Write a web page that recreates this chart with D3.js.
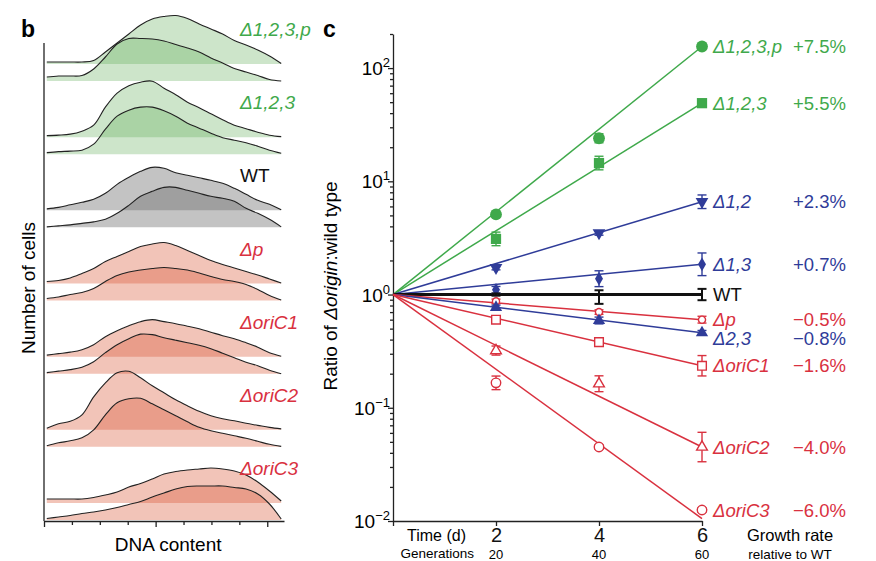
<!DOCTYPE html>
<html>
<head>
<meta charset="utf-8">
<script src="https://cdnjs.cloudflare.com/ajax/libs/d3/7.8.5/d3.min.js"></script>
<style>
body { margin: 0; background: #fff; }
svg { font-family: "Liberation Sans", Arial, sans-serif; }
</style>
</head>
<body>
<div id="chart"></div>
<script>
// ---------- data: panel b (DNA content histograms) ----------
var dnaBins = [0.1, 0.52, 0.94, 1.36, 1.78, 2.2, 2.62, 3.04, 3.46, 3.88, 4.3,
    4.72, 5.14, 5.56, 5.98, 6.4, 6.82, 7.24, 7.66, 8.08, 8.5];
var dnaTicks = [0, 1, 2, 3, 4, 5, 6, 7, 8];
var histStrains = ["Δ1,2,3,p", "Δ1,2,3", "WT", "Δp", "ΔoriC1", "ΔoriC2", "ΔoriC3"];

// upper (A) and lower (B) trace of each strain, cell counts per bin
var h123pA = [2, 2, 2, 2, 3.5, 12, 21, 30, 39, 45, 47.5, 48.5, 45.5, 40, 35, 30, 23.5, 19, 14, 8, 0.5];
var h123pB = [4, 5, 5, 5.5, 12, 24, 37, 42.5, 42.5, 42, 40, 36.5, 33, 29, 23, 18, 12.5, 9, 5.5, 1.5, 0];
var h123A = [1.5, 2, 3, 6, 12, 30, 44, 51.5, 55, 56, 49, 42.5, 35, 29.5, 23.5, 17.5, 12, 8.5, 5, 2, 0.5];
var h123B = [1.5, 2.5, 3, 4, 10, 25, 38, 44, 47, 47, 43.5, 38, 31, 26, 21, 16.5, 14, 11.5, 8, 4, 1];
var hWTA = [1.5, 3, 5.5, 8, 11, 17, 26, 33, 39, 43, 42, 37.5, 35, 32.5, 30, 27, 22, 16, 10, 6, 0.5];
var hWTB = [0.5, 1.5, 2.5, 4, 5.5, 8, 14, 22, 31, 36, 40, 40, 37, 34, 31, 29, 26, 19, 14, 8, 0.5];
var hpA = [2, 3, 5.5, 10, 15, 22, 27, 32, 37, 39.5, 41, 38, 33, 28, 23, 19, 15.5, 12, 8.5, 4.5, 0.5];
var hpB = [2, 3.5, 6, 8, 12, 19, 25, 28.5, 30.5, 32, 33, 32, 30.5, 27.5, 24, 21, 19, 16, 11, 5, 0.5];
var hC1A = [1.5, 3, 4.5, 7, 12, 20, 26, 31, 35, 37, 35, 33, 30.5, 28, 24.5, 21, 18, 14, 9.5, 4, 0.5];
var hC1B = [1, 2.5, 4, 6.5, 12, 21, 29, 35, 39.5, 39, 36, 33.5, 31, 28.5, 25, 20.5, 16, 11.5, 8, 3.5, 0];
var hC2A = [1.5, 6, 8.5, 15, 33, 47, 57, 58.5, 52, 44, 37, 30, 24, 18.5, 14, 11, 9, 6.5, 4.5, 2.5, 1];
var hC2B = [1, 4, 6, 9, 17, 32, 44, 48, 48.5, 43, 37, 31, 25, 19.5, 16, 13.5, 11, 8.5, 5.5, 2.5, 0.5];
var hC3A = [4, 4, 4, 4, 5.5, 8, 11, 16, 19.5, 24, 29, 31.5, 33, 34, 35, 34, 32, 28, 21, 12, 2];
var hC3B = [1.5, 3, 4.5, 6.5, 8, 10, 12.5, 15.5, 18.5, 23, 27, 31, 33.5, 34, 34, 34, 32.5, 31, 26, 16, 1];
var histUpper = [h123pA, h123A, hWTA, hpA, hC1A, hC2A, hC3A];
var histLower = [h123pB, h123B, hWTB, hpB, hC1B, hC2B, hC3B];

// ---------- data: panel c (ratio of Δorigin : wild type) ----------
var days = [2, 4, 6];
var generations = [20, 40, 60];
var strains = ["Δ1,2,3,p", "Δ1,2,3", "Δ1,2", "Δ1,3", "WT", "Δp", "Δ2,3", "ΔoriC1", "ΔoriC2", "ΔoriC3"];
var growthRates = ["+7.5%", "+5.5%", "+2.3%", "+0.7%", "", "−0.5%", "−0.8%", "−1.6%", "−4.0%", "−6.0%"];
var ratios = [
    [5.1, 24, 155],
    [3.1, 14.5, 49],
    [1.73, 3.5, 6.6],
    [1.1, 1.38, 1.85],
    [1, 0.95, 1],
    [0.87, 0.7, 0.6],
    [0.77, 0.59, 0.46],
    [0.6, 0.38, 0.235],
    [0.32, 0.163, 0.045],
    [0.166, 0.045, 0.0125]
];
// error bar half-widths, in decades (log10)
var ratioErrors = [
    [0.02, 0.04, 0.02],
    [0.06, 0.06, 0.02],
    [0.02, 0.02, 0.06],
    [0.03, 0.07, 0.1],
    [0.01, 0.06, 0.05],
    [0.02, 0.02, 0.03],
    [0.02, 0.03, 0.02],
    [0.02, 0.02, 0.09],
    [0.04, 0.07, 0.13],
    [0.06, 0.02, 0.02]
];
// fitted exponential line, value at day 6 (starts at 1 on day 0)
var fitAtDay6 = [155, 49, 6.6, 1.85, 1, 0.6, 0.46, 0.235, 0.045, 0.0105];

// ---------- styles ----------
var green = "#3fa94b", blue = "#2f3c99", red = "#d9313f", black = "#111";
var strainColor = [green, green, blue, blue, black, red, blue, red, red, red];
var triDown = { draw: function(ctx, size) {
    var s = Math.sqrt(size * 4 / Math.sqrt(3)), h = s * Math.sqrt(3) / 2;
    ctx.moveTo(-s / 2, -h / 3); ctx.lineTo(s / 2, -h / 3); ctx.lineTo(0, 2 * h / 3); ctx.closePath();
} };
var strainSymbol = [d3.symbolCircle, d3.symbolSquare, triDown, d3.symbolDiamond, null,
    d3.symbolCircle, d3.symbolTriangle, d3.symbolSquare, d3.symbolTriangle, d3.symbolCircle];
var strainSymbolSize = [110, 105, 70, 55, 0, 40, 65, 75, 50, 70];
var strainOpen = [false, false, false, false, false, true, false, true, true, true];
var histFill = ["rgb(90,170,80)", "rgb(90,170,80)", "rgb(105,105,105)", "rgb(218,86,52)",
    "rgb(218,86,52)", "rgb(218,86,52)", "rgb(218,86,52)"];
var histAlpha = [0.3, 0.3, 0.4, 0.35, 0.35, 0.35, 0.35];
var histLabelColor = [green, green, black, red, red, red, red];

var svg = d3.select("#chart")
    .append("svg")
    .attr("width", 876)
    .attr("height", 561);

// ================= panel b =================
var dnaScale = d3.scaleLinear().domain([0, 8.6]).range([44, 284]);
var laneScale = d3.scalePoint().domain(histStrains).range([81, 520]);
var cellScale = d3.scaleLinear().domain([0, 60]).range([0, 60]);
var laneGap = 17;

var panelB = svg.append("g");

histStrains.forEach(function(name, i) {
    var base = laneScale(name);
    [[histUpper[i], base - laneGap], [histLower[i], base]].forEach(function(pair) {
        var pts = pair[0].map((c, k) => ({ x: dnaBins[k], c: c }));
        var b0 = pair[1];
        var area = d3.area()
            .x(d => dnaScale(d.x))
            .y0(b0)
            .y1(d => b0 - cellScale(d.c))
            .curve(d3.curveCatmullRom);
        panelB.append("path")
            .datum(pts)
            .attr("d", area)
            .attr("fill", histFill[i])
            .attr("fill-opacity", histAlpha[i]);
    });
});

// outlines on top
histStrains.forEach(function(name, i) {
    var base = laneScale(name);
    [[histUpper[i], base - laneGap], [histLower[i], base]].forEach(function(pair) {
        var pts = pair[0].map((c, k) => ({ x: dnaBins[k], c: c }));
        var b0 = pair[1];
        var line = d3.line()
            .x(d => dnaScale(d.x))
            .y(d => b0 - cellScale(d.c))
            .curve(d3.curveCatmullRom);
        panelB.append("path")
            .datum(pts)
            .attr("d", line)
            .attr("fill", "none")
            .attr("stroke", "#222")
            .attr("stroke-width", 1.1);
    });
    panelB.append("text")
        .attr("x", 240)
        .attr("y", base - 45)
        .attr("fill", histLabelColor[i])
        .attr("font-size", 19)
        .attr("font-style", name === "WT" ? "normal" : "italic")
        .text(name);
});

// axes of panel b
var dnaAxis = panelB.append("g")
    .attr("transform", "translate(0,521)")
    .call(d3.axisBottom(dnaScale).tickValues(dnaTicks).tickSize(4).tickSizeOuter(0).tickFormat(""));
dnaAxis.selectAll(".tick line").attr("y2", d => d % 4 === 0 ? 6 : 4);
dnaAxis.selectAll("path, line").attr("stroke", "#222").attr("stroke-width", 1.3);

panelB.append("line")
    .attr("x1", dnaScale(0)).attr("x2", dnaScale(0))
    .attr("y1", 43).attr("y2", 521)
    .attr("stroke", "#222")
    .attr("stroke-width", 1.3);

panelB.append("text")
    .attr("x", dnaScale(4.45))
    .attr("y", 551)
    .attr("text-anchor", "middle")
    .attr("font-size", 19)
    .text("DNA content");

panelB.append("text")
    .attr("transform", "translate(35,288) rotate(-90)")
    .attr("text-anchor", "middle")
    .attr("font-size", 19)
    .text("Number of cells");

svg.append("text")
    .attr("x", 21).attr("y", 37)
    .attr("font-size", 23).attr("font-weight", "bold")
    .text("b");

// ================= panel c =================
var x = d3.scaleLinear().domain([0, 6]).range([393, 702]);
var y = d3.scaleLog().domain([0.01, 200]).range([521, 34]);

var panelC = svg.append("g");

var majorTicks = [0.01, 0.1, 1, 10, 100];
var tickExp = ["−2", "−1", "0", "1", "2"];
var minorTicks = [];
majorTicks.forEach(function(m) {
    for (var k = 2; k <= 9; k++) {
        if (m * k <= 200) minorTicks.push(m * k);
    }
});

var yAxis = panelC.append("g")
    .attr("transform", `translate(${x(0)},0)`)
    .call(d3.axisLeft(y).tickValues(majorTicks).tickSize(5).tickSizeOuter(0).tickFormat(""));
var yMinor = panelC.append("g")
    .attr("transform", `translate(${x(0)},0)`)
    .call(d3.axisLeft(y).tickValues(minorTicks).tickSize(3).tickFormat(""));
yMinor.select(".domain").remove();
panelC.selectAll("path.domain, .tick line").attr("stroke", "#222").attr("stroke-width", 1.3);

majorTicks.forEach(function(m, i) {
    var t = panelC.append("text")
        .attr("x", x(0) - 3)
        .attr("y", y(m) + 7)
        .attr("text-anchor", "end")
        .attr("font-size", 19)
        .text("10");
    t.append("tspan")
        .attr("dy", -8)
        .attr("font-size", 13)
        .text(tickExp[i]);
});

var xAxis = panelC.append("g")
    .attr("transform", "translate(0,521)")
    .call(d3.axisBottom(x).tickValues([0].concat(days)).tickSize(5).tickSizeOuter(0)
        .tickFormat(d => d === 0 ? "" : d));
xAxis.selectAll("path, line").attr("stroke", "#222").attr("stroke-width", 1.3);
xAxis.selectAll("text")
    .attr("font-size", 20)
    .attr("font-family", "Liberation Sans, Arial, sans-serif")
    .attr("fill", "#111")
    .attr("y", 7);

// bottom row sits right at the lower edge, as in the original figure
panelC.selectAll(".gen")
    .data(generations)
    .enter()
    .append("text")
    .attr("x", (d, i) => x(days[i]))
    .attr("y", 559)
    .attr("text-anchor", "middle")
    .attr("font-size", 13)
    .text(d => d);

panelC.append("text")
    .attr("x", 466).attr("y", 541)
    .attr("text-anchor", "end").attr("font-size", 16)
    .text("Time (d)");
panelC.append("text")
    .attr("x", 474).attr("y", 558)
    .attr("text-anchor", "end").attr("font-size", 13.5)
    .text("Generations");
panelC.append("text")
    .attr("x", 790).attr("y", 541)
    .attr("text-anchor", "middle").attr("font-size", 16.5)
    .text("Growth rate");
panelC.append("text")
    .attr("x", 790).attr("y", 559)
    .attr("text-anchor", "middle").attr("font-size", 13.5)
    .text("relative to WT");

var yLabel = panelC.append("text")
    .attr("transform", "translate(337,286) rotate(-90)")
    .attr("text-anchor", "middle")
    .attr("font-size", 19);
yLabel.append("tspan").text("Ratio of ");
yLabel.append("tspan").attr("font-style", "italic").text("Δorigin");
yLabel.append("tspan").text(":wild type");

svg.append("text")
    .attr("x", 323).attr("y", 37)
    .attr("font-size", 23).attr("font-weight", "bold")
    .text("c");

// fitted lines
strains.forEach(function(name, i) {
    panelC.append("line")
        .attr("x1", x(0)).attr("y1", y(1))
        .attr("x2", x(6)).attr("y2", y(fitAtDay6[i]))
        .attr("stroke", strainColor[i])
        .attr("stroke-width", name === "WT" ? 3 : 1.5);
});

// error bars and markers
strains.forEach(function(name, i) {
    var g = panelC.append("g");
    days.forEach(function(dd, k) {
        var v = ratios[i][k], e = ratioErrors[i][k];
        var lo = y(v / Math.pow(10, e)), hi = y(v * Math.pow(10, e));
        var cx = x(dd);
        var sw = name === "WT" ? 2 : 1.4;
        g.append("line").attr("x1", cx).attr("x2", cx).attr("y1", lo).attr("y2", hi)
            .attr("stroke", strainColor[i]).attr("stroke-width", sw);
        [lo, hi].forEach(function(yy) {
            g.append("line").attr("x1", cx - 4.5).attr("x2", cx + 4.5).attr("y1", yy).attr("y2", yy)
                .attr("stroke", strainColor[i]).attr("stroke-width", sw);
        });
    });
    if (strainSymbol[i]) {
        g.selectAll(".mk")
            .data(ratios[i])
            .enter()
            .append("path")
            .attr("transform", (d, k) => `translate(${x(days[k])},${y(d)})`)
            .attr("d", d3.symbol().type(strainSymbol[i]).size(strainSymbolSize[i]))
            .attr("fill", strainOpen[i] ? "#fff" : strainColor[i])
            .attr("stroke", strainOpen[i] ? strainColor[i] : "none")
            .attr("stroke-width", 1.4);
    }
});

// strain names and growth rates, nudged apart where they would collide
var labelY = strains.map((s, i) => y(ratios[i][2]));
var order = d3.range(strains.length).sort((a, b) => labelY[a] - labelY[b]);
for (var j = 1; j < order.length; j++) {
    var prev = labelY[order[j - 1]];
    if (labelY[order[j]] - prev < 19) labelY[order[j]] = prev + 19;
}

strains.forEach(function(name, i) {
    panelC.append("text")
        .attr("x", 713)
        .attr("y", labelY[i])
        .attr("dy", "0.36em")
        .attr("fill", strainColor[i])
        .attr("font-size", 18.5)
        .attr("font-style", name === "WT" ? "normal" : "italic")
        .text(name);
    panelC.append("text")
        .attr("x", 793)
        .attr("y", labelY[i])
        .attr("dy", "0.36em")
        .attr("fill", strainColor[i])
        .attr("font-size", 18.5)
        .text(growthRates[i]);
});
</script>
</body>
</html>
